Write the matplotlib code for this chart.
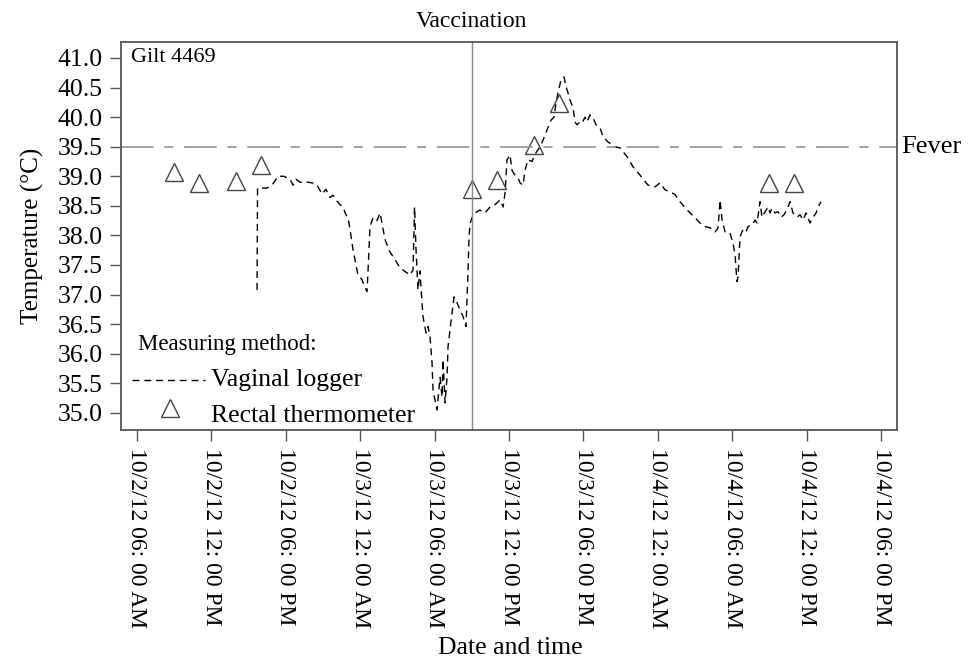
import numpy as np
import matplotlib; matplotlib.use("Agg")
import matplotlib.pyplot as plt
from matplotlib.lines import Line2D

plt.rcParams["font.family"] = ["Liberation Serif", "DejaVu Serif"]

# hours since 10/2/12 00:00
logger_h = [15.68, 15.72, 16.48, 16.89, 17.37, 17.85, 18.34, 18.58, 18.82, 19.15,
            19.79, 20.35, 20.60, 20.92, 21.24, 21.56, 21.81, 22.13, 22.37, 22.61,
            22.85, 23.02, 23.18, 23.42, 23.66, 23.82, 24.15, 24.31, 24.55, 24.63,
            24.79, 25.03, 25.35, 25.60, 25.76, 26.00, 26.40, 26.81, 27.21, 27.61,
            28.02, 28.26, 28.38, 28.50, 28.66, 28.82, 28.90, 29.06, 29.31, 29.47,
            29.63, 29.79, 29.87, 30.03, 30.19, 30.44, 30.60, 30.68, 30.84, 31.00,
            31.08, 31.24, 31.40, 31.56, 31.81, 32.05, 32.29, 32.53, 32.61, 32.69,
            32.77, 32.85, 33.02, 33.26, 33.66, 34.06, 34.47, 34.87, 35.27, 35.52,
            35.68, 35.84, 36.08, 36.24, 36.48, 36.73, 36.89, 37.13, 37.29, 37.53,
            37.85, 38.18, 38.50, 38.74, 39.15, 39.39, 39.63, 39.79, 39.95, 40.19,
            40.44, 40.60, 40.76, 40.92, 41.16, 41.32, 41.48, 41.73, 41.89, 42.13,
            42.29, 42.53, 42.77, 43.02, 43.34, 43.58, 43.98, 44.55, 44.95, 45.52,
            46.00, 46.56, 47.21, 47.77, 48.18, 48.58, 48.98, 49.39, 49.79, 50.19,
            50.60, 51.00, 51.40, 51.81, 52.21, 52.61, 52.85, 53.02, 53.18, 53.42,
            53.82, 54.06, 54.23, 54.31, 54.39, 54.47, 54.63, 54.87, 55.11, 55.27,
            55.60, 55.84, 56.00, 56.24, 56.40, 56.65, 56.89, 57.05, 57.21, 57.45,
            57.69, 57.94, 58.18, 58.50, 58.66, 58.90, 59.23, 59.47, 59.71, 59.95,
            60.27, 60.52, 60.76, 60.92, 61.16]
logger_t = [37.08, 38.80, 38.80, 38.85, 39.00, 39.00, 38.95, 38.85, 38.95, 38.90,
            38.90, 38.88, 38.82, 38.70, 38.78, 38.64, 38.68, 38.58, 38.52, 38.48,
            38.35, 38.30, 38.10, 37.76, 37.50, 37.33, 37.25, 37.15, 37.05, 37.40,
            38.15, 38.30, 38.25, 38.38, 38.20, 37.93, 37.72, 37.59, 37.45, 37.39,
            37.33, 37.42, 38.48, 37.76, 37.08, 37.40, 37.13, 36.63, 36.35, 36.46,
            36.29, 35.85, 35.39, 35.22, 35.05, 35.60, 35.27, 35.90, 35.17, 35.60,
            36.12, 36.40, 36.69, 36.96, 36.86, 36.74, 36.63, 36.46, 36.91, 37.37,
            37.93, 38.20, 38.30, 38.38, 38.43, 38.38, 38.48, 38.52, 38.60, 38.48,
            38.72, 39.28, 39.36, 39.10, 39.02, 38.97, 38.89, 38.85, 39.10, 39.28,
            39.25, 39.40, 39.50, 39.61, 39.83, 39.95, 40.00, 40.24, 40.41, 40.63,
            40.68, 40.51, 40.41, 40.29, 40.16, 39.92, 39.87, 39.92, 39.90, 40.00,
            39.92, 40.04, 39.99, 39.87, 39.82, 39.67, 39.58, 39.50, 39.48, 39.33,
            39.16, 39.02, 38.85, 38.82, 38.89, 38.77, 38.74, 38.69, 38.57, 38.47,
            38.38, 38.30, 38.21, 38.15, 38.13, 38.06, 38.12, 38.60, 38.26, 38.06,
            38.04, 37.87, 37.67, 37.42, 37.22, 37.30, 37.98, 38.10, 38.06, 38.15,
            38.18, 38.26, 38.21, 38.57, 38.31, 38.40, 38.48, 38.38, 38.46, 38.38,
            38.40, 38.31, 38.35, 38.48, 38.57, 38.38, 38.31, 38.35, 38.26, 38.38,
            38.21, 38.31, 38.38, 38.48, 38.57]

rectal_h = [9, 11, 14, 16, 33, 35, 38, 40, 57, 59]
rectal_t = [39.07, 38.89, 38.92, 39.19, 38.79, 38.94, 39.53, 40.24, 38.89, 38.89]

tick_h = [6, 12, 18, 24, 30, 36, 42, 48, 54, 60, 66]
tick_labels = ["10/2/12 06: 00 AM", "10/2/12 12: 00 PM", "10/2/12 06: 00 PM",
               "10/3/12 12: 00 AM", "10/3/12 06: 00 AM", "10/3/12 12: 00 PM",
               "10/3/12 06: 00 PM", "10/4/12 12: 00 AM", "10/4/12 06: 00 AM",
               "10/4/12 12: 00 PM", "10/4/12 06: 00 PM"]
y_ticks = np.arange(35.0, 41.01, 0.5)
vaccination_h = 33
fever_t = 39.5

fig = plt.figure(figsize=(9.68, 6.64), dpi=100)
ax = fig.add_axes([0.125, 0.3524, 0.8017, 0.5843])

ax.plot(logger_h, logger_t, color="black", lw=1.0, ls=(0, (5, 3.5)))
ax.plot(rectal_h, rectal_t, ls="none", marker="^", ms=13, mfc="none", mec="#444444", mew=1.0)
ax.axhline(fever_t, color="#999999", lw=1.3, ls=(0, (18, 6, 5, 6)))
ax.axvline(vaccination_h, color="#888888", lw=1.0)

ax.set_xlim(4.71, 67.29)
ax.set_ylim(34.71, 41.27)
ax.set_xticks(tick_h)
ax.set_xticklabels(tick_labels, rotation=-90, fontsize=17)
ax.set_yticks(y_ticks)
ax.set_yticklabels([f"{v:.1f}" for v in y_ticks], fontsize=18.5)
ax.tick_params(direction="out", length=8, width=1.0, color="#555555", pad=5)
for s in ax.spines.values():
    s.set_color("#555555"); s.set_linewidth(1.3)

ax.set_ylabel("Temperature (°C)", fontsize=18, labelpad=10)
fig.text(0.527, 0.024, "Date and time", ha="center", va="center", fontsize=18.5)
ax.text(vaccination_h, 41.62, "Vaccination", ha="center", va="center", fontsize=17)
ax.text(67.6, fever_t, "Fever", ha="left", va="center", fontsize=19)
ax.text(5.5, 41.0, "Gilt 4469", ha="left", va="center", fontsize=16)

ax.text(6.05, 36.15, "Measuring method:", ha="left", va="center", fontsize=16.5)
ax.add_line(Line2D([5.6, 11.5], [35.56, 35.56], color="black", lw=1.0, ls=(0, (5, 3.5))))
ax.text(12.0, 35.56, "Vaginal logger", ha="left", va="center", fontsize=18.5)
ax.plot([8.7], [35.08], ls="none", marker="^", ms=13, mfc="none", mec="#444444", mew=1.0)
ax.text(12.0, 34.95, "Rectal thermometer", ha="left", va="center", fontsize=18.5)

fig.savefig("out.png", dpi=100)
